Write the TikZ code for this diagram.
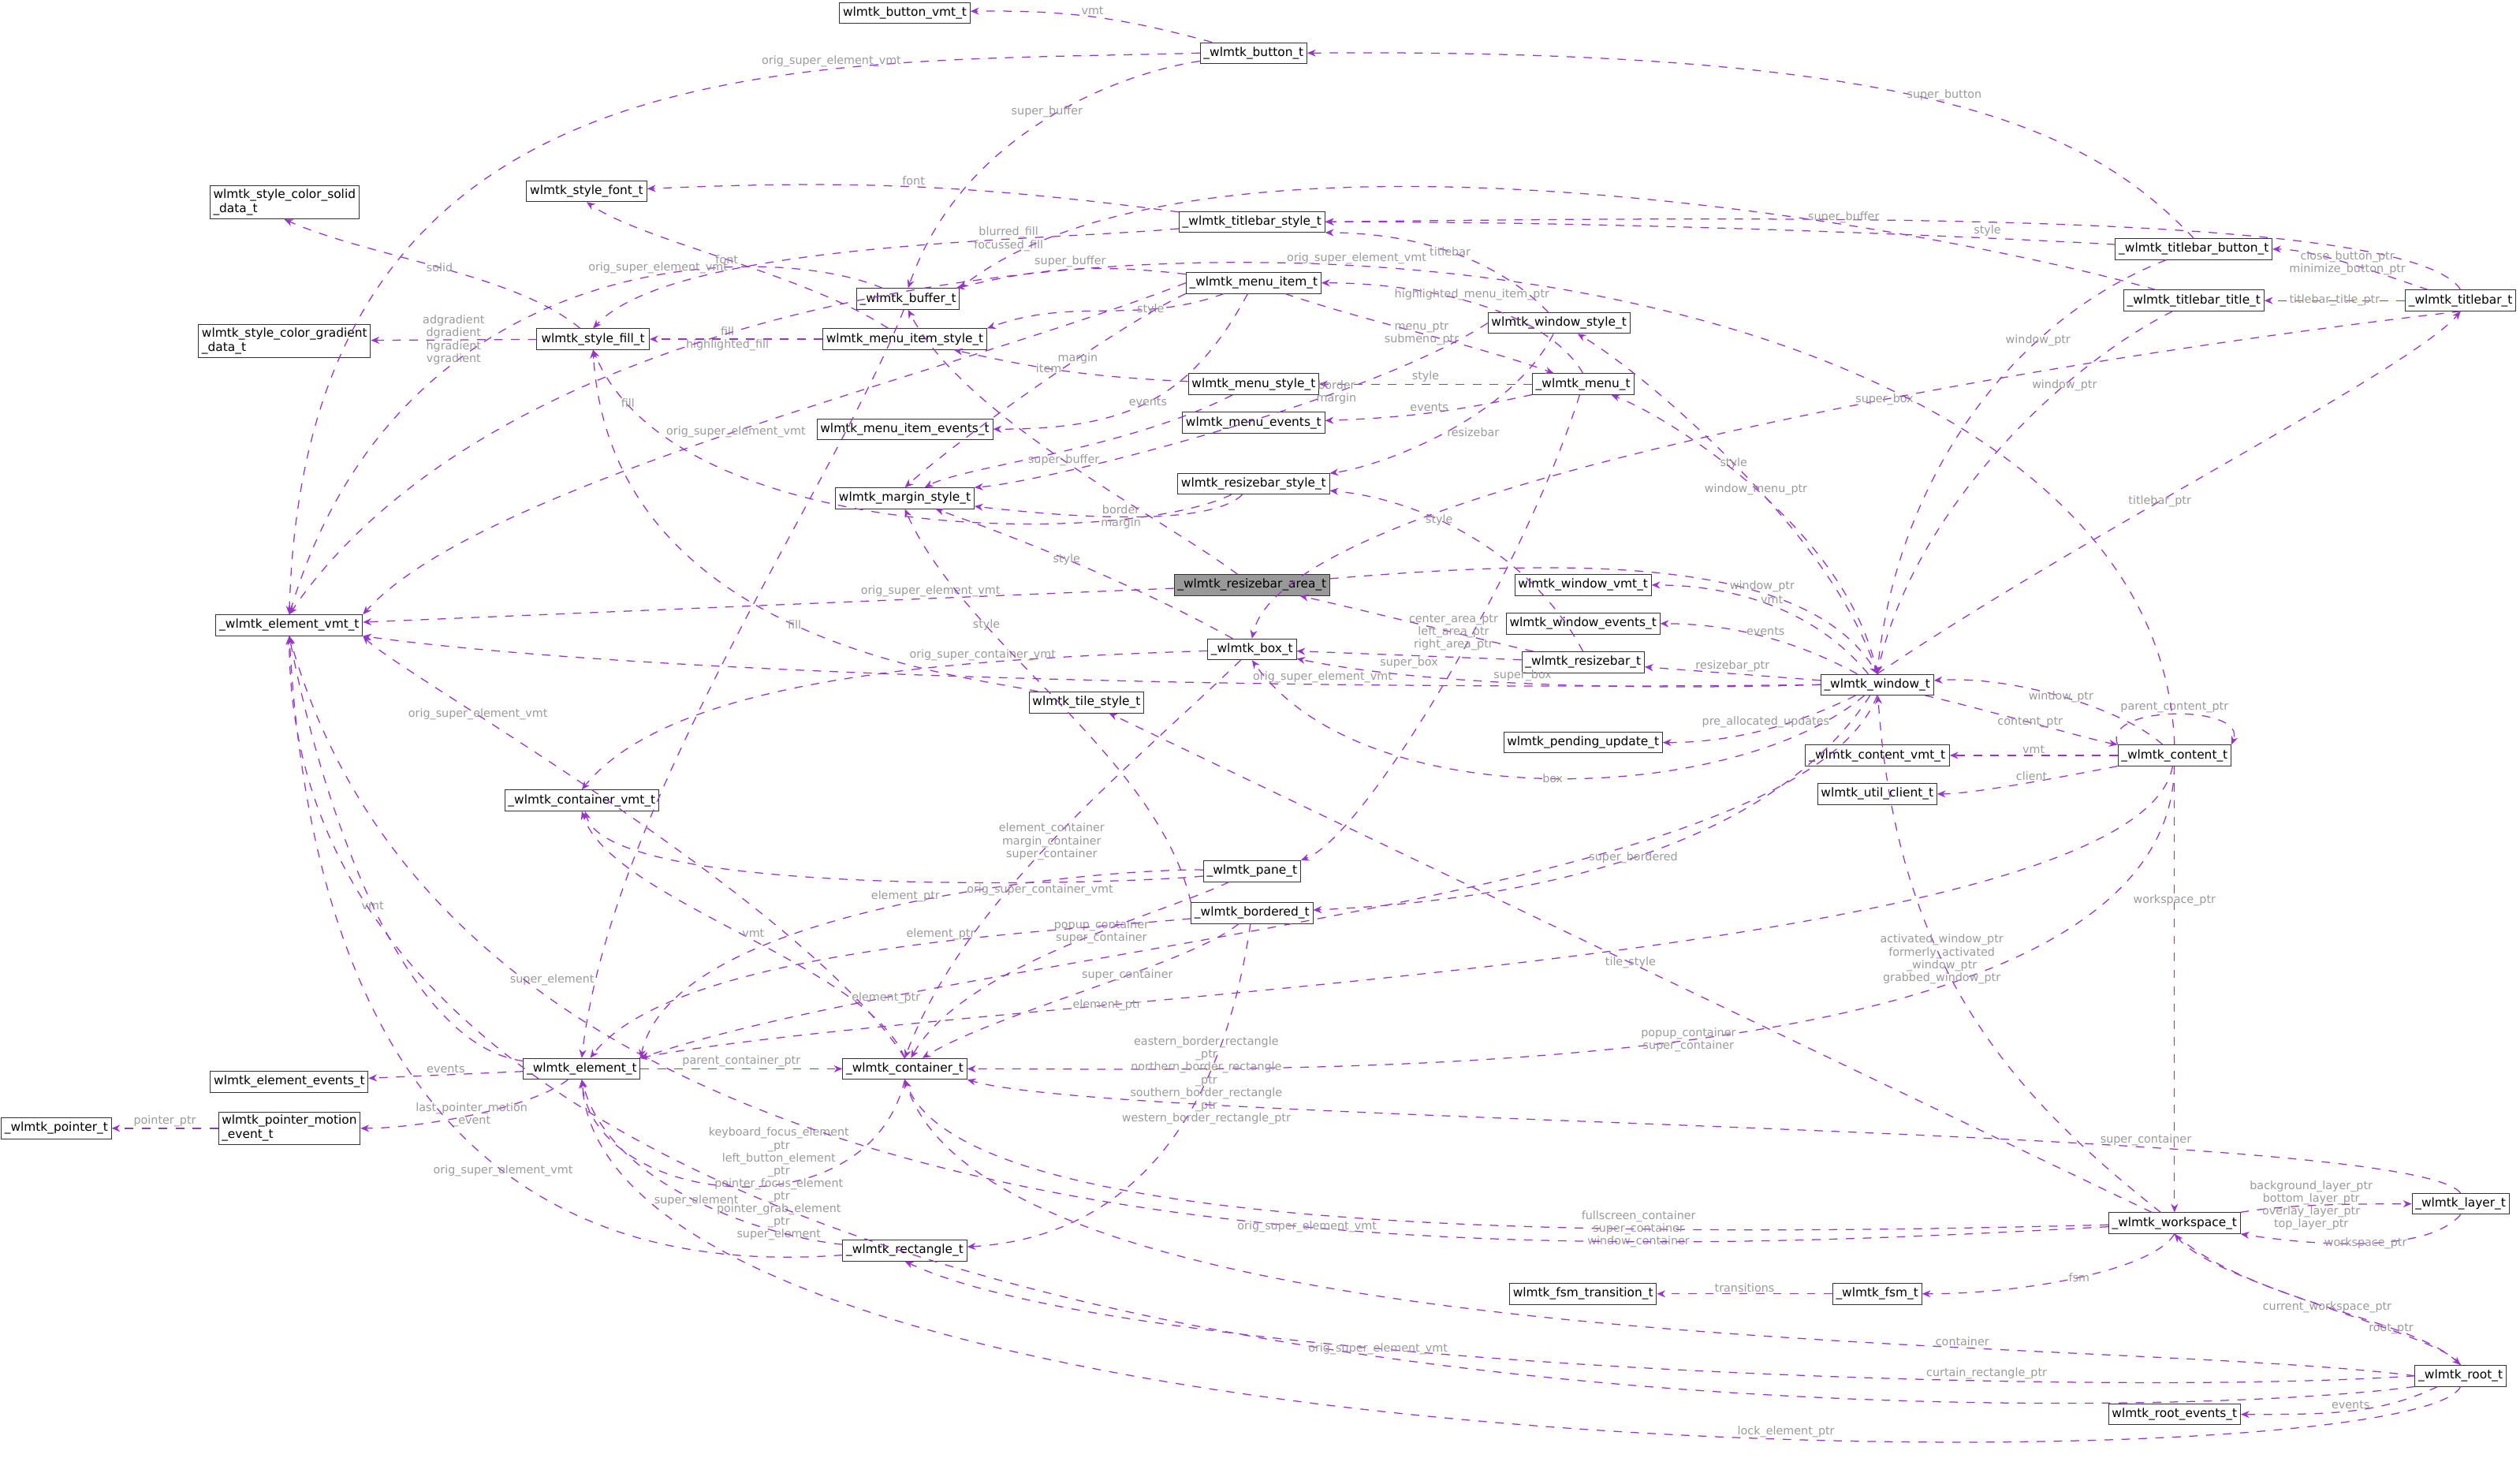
\documentclass[tikz,border=0pt]{standalone}
\usepackage{fontspec}
\setmainfont{DejaVu Sans}
\usetikzlibrary{arrows.meta}
\definecolor{pe}{HTML}{9A32CD}
\definecolor{lg}{HTML}{9A9A9A}
\tikzset{
 nd/.style={draw=black!80,line width=0.25pt,fill=white,font=\fontsize{4.3}{5}\selectfont,inner sep=1.2pt,minimum height=0.26cm,align=center},
 nd2/.style={nd,minimum height=0.4cm,align=left},
 sel/.style={nd,fill=gray!80},
 e/.style={draw=pe,dashed,line width=0.35pt,-{Stealth[length=3pt,width=2.5pt]}},
 lab/.style={font=\fontsize{4}{4.5}\selectfont,text=lg,align=center,inner sep=0.5pt,fill=none}
}
\begin{document}
\begin{tikzpicture}[x=0.02cm,y=-0.02cm]
\useasboundingbox (0,0) rectangle (1568,916);
\fill[white] (0,0) rectangle (1568,916);
% nodes
\node[nd,minimum width=1.5cm] (bvmt) at (563,8) {wlmtk\_button\_vmt\_t};
\node[nd,minimum width=1.2cm] (btn) at (780,33) {\_wlmtk\_button\_t};
\node[nd2,minimum width=1.6cm] (csol) at (177,126) {wlmtk\_style\_color\_solid\\\_data\_t};
\node[nd,minimum width=1.5cm] (font) at (365,119) {wlmtk\_style\_font\_t};
\node[nd,minimum width=1.6cm] (tbs) at (779,138) {\_wlmtk\_titlebar\_style\_t};
\node[nd,minimum width=1.2cm] (buf) at (565,186) {\_wlmtk\_buffer\_t};
\node[nd,minimum width=1.4cm] (mit) at (780,176) {\_wlmtk\_menu\_item\_t};
\node[nd,minimum width=1.8cm] (tbb) at (1365,155) {\_wlmtk\_titlebar\_button\_t};
\node[nd,minimum width=1.7cm] (tbt) at (1365,187) {\_wlmtk\_titlebar\_title\_t};
\node[nd,minimum width=1.3cm] (tb) at (1531,187) {\_wlmtk\_titlebar\_t};
\node[nd,minimum width=1.6cm] (wst) at (970,201) {wlmtk\_window\_style\_t};
\node[nd2,minimum width=1.9cm] (cgr) at (177,212) {wlmtk\_style\_color\_gradient\\\_data\_t};
\node[nd,minimum width=1.4cm] (fill) at (369,211) {wlmtk\_style\_fill\_t};
\node[nd,minimum width=1.9cm] (mis) at (563,211) {wlmtk\_menu\_item\_style\_t};
\node[nd,minimum width=1.6cm] (mst) at (780,239) {wlmtk\_menu\_style\_t};
\node[nd,minimum width=1.2cm] (menu) at (985,239) {\_wlmtk\_menu\_t};
\node[nd,minimum width=1.6cm] (mev) at (780,263) {wlmtk\_menu\_events\_t};
\node[nd,minimum width=2.0cm] (mie) at (563,267) {wlmtk\_menu\_item\_events\_t};
\node[nd,minimum width=1.8cm] (rbs) at (780,301) {wlmtk\_resizebar\_style\_t};
\node[nd,minimum width=1.6cm] (mar) at (563,310) {wlmtk\_margin\_style\_t};
\node[sel,minimum width=1.8cm] (rba) at (779,364) {\_wlmtk\_resizebar\_area\_t};
\node[nd,minimum width=1.6cm] (wvmt) at (985,364) {wlmtk\_window\_vmt\_t};
\node[nd,minimum width=1.75cm] (evmt) at (180,389) {\_wlmtk\_element\_vmt\_t};
\node[nd,minimum width=1.8cm] (wev) at (985,388) {wlmtk\_window\_events\_t};
\node[nd,minimum width=1.1cm] (box) at (779,404) {\_wlmtk\_box\_t};
\node[nd,minimum width=1.45cm] (rb) at (985,412) {\_wlmtk\_resizebar\_t};
\node[nd,minimum width=1.4cm] (win) at (1168,426) {\_wlmtk\_window\_t};
\node[nd,minimum width=1.35cm] (tile) at (676,437) {wlmtk\_tile\_style\_t};
\node[nd,minimum width=1.9cm] (pend) at (985,462) {wlmtk\_pending\_update\_t};
\node[nd,minimum width=1.8cm] (cvmt) at (1168,470) {\_wlmtk\_content\_vmt\_t};
\node[nd,minimum width=1.35cm] (cont) at (1353,470) {\_wlmtk\_content\_t};
\node[nd,minimum width=1.4cm] (ucl) at (1168,494) {wlmtk\_util\_client\_t};
\node[nd,minimum width=1.8cm] (ctvmt) at (362,498) {\_wlmtk\_container\_vmt\_t};
\node[nd,minimum width=1.15cm] (pane) at (779,542) {\_wlmtk\_pane\_t};
\node[nd,minimum width=1.4cm] (bord) at (779,568) {\_wlmtk\_bordered\_t};
\node[nd,minimum width=1.8cm] (eev) at (180,673) {wlmtk\_element\_events\_t};
\node[nd,minimum width=1.35cm] (el) at (362,665) {\_wlmtk\_element\_t};
\node[nd,minimum width=1.45cm] (ct) at (563,665) {\_wlmtk\_container\_t};
\node[nd,minimum width=1.25cm] (ptr) at (35,702) {\_wlmtk\_pointer\_t};
\node[nd2,minimum width=1.7cm] (pme) at (180,702) {wlmtk\_pointer\_motion\\\_event\_t};
\node[nd,minimum width=1.4cm] (rect) at (563,778) {\_wlmtk\_rectangle\_t};
\node[nd,minimum width=1.6cm] (ws) at (1353,761) {\_wlmtk\_workspace\_t};
\node[nd,minimum width=1.1cm] (lay) at (1531,749) {\_wlmtk\_layer\_t};
\node[nd,minimum width=1.8cm] (fsmt) at (985,805) {wlmtk\_fsm\_transition\_t};
\node[nd,minimum width=1.1cm] (fsm) at (1168,805) {\_wlmtk\_fsm\_t};
\node[nd,minimum width=1.1cm] (root) at (1531,856) {\_wlmtk\_root\_t};
\node[nd,minimum width=1.6cm] (rev) at (1353,880) {wlmtk\_root\_events\_t};
% edges
\draw[e] (btn) to[bend right=8] node[lab,above]{vmt} (bvmt);
\draw[e] (btn.west) .. controls (500,40) and (190,20) .. node[lab,pos=0.3,above]{orig\_super\_element\_vmt} (evmt.north);
\draw[e] (btn) .. controls (700,45) and (600,80) .. node[lab,pos=0.5,above]{super\_buffer} (buf.north);
\draw[e] (tbb.north) .. controls (1300,80) and (1200,30) .. node[lab,pos=0.5,above]{super\_button} (btn.east);
\draw[e] (tbs) to[bend right=5] node[lab,above]{font} (font);
\draw[e] (tbs) .. controls (650,150) and (420,150) .. node[lab,pos=0.3]{blurred\_fill\\focussed\_fill} (fill.north);
\draw[e] (tbb) .. controls (1280,150) and (1050,138) .. node[lab,pos=0.3,above]{style} (tbs);
\draw[e] (tb.north) .. controls (1500,130) and (1100,135) .. (tbs.east);
\draw[e] (tbt) .. controls (1200,140) and (750,60) .. node[lab,pos=0.3,above]{super\_buffer} (buf.north east);
\draw[e] (buf) .. controls (480,150) and (250,150) .. node[lab,pos=0.4,above]{orig\_super\_element\_vmt} (evmt.north);
\draw[e] (buf) .. controls (520,300) and (380,500) .. node[lab,pos=0.9,left]{super\_element} (el.north);
\draw[e] (mit) to[bend right=10] node[lab,above]{super\_buffer} (buf);
\draw[e] (mit) to[out=200,in=20] node[lab,pos=0.3]{style} (mis.north east);
\draw[e] (mit.south west) .. controls (700,200) and (600,270) .. node[lab,pos=0.4]{margin} (mar.north);
\draw[e] (mit) .. controls (740,250) and (700,267) .. node[lab,pos=0.5]{events} (mie);
\draw[e] (mit) .. controls (850,200) and (920,215) .. node[lab,pos=0.5]{menu\_ptr\\submenu\_ptr} (menu);
\draw[e] (menu.north) .. controls (960,190) and (880,176) .. node[lab,pos=0.5,above]{highlighted\_menu\_item\_ptr} (mit.east);
\draw[e] (mis) .. controls (500,170) and (400,150) .. node[lab,pos=0.5]{font} (font.south);
\draw[e] (mis) -- node[lab,pos=0.55]{fill\\highlighted\_fill} (fill);
\draw[e] (mst) to[bend left=5] node[lab,pos=0.6]{item} (mis);
\draw[e] (mst) .. controls (700,280) and (600,290) .. (mar);
\draw[e] (menu) -- node[lab,above]{style} (mst);
\draw[e] (menu) to[bend left=5] node[lab,above]{events} (mev);
\draw[e] (menu) .. controls (950,350) and (850,520) .. (pane.north east);
\draw[e] (mit.west) .. controls (600,230) and (300,300) .. node[lab,pos=0.5]{orig\_super\_element\_vmt} (evmt.north east);
\draw[e] (wst) .. controls (930,160) and (880,145) .. node[lab,pos=0.5]{titlebar} (tbs.south east);
\draw[e] (wst) .. controls (940,260) and (860,290) .. node[lab,pos=0.5,right]{resizebar} (rbs);
\draw[e] (wst.west) .. controls (850,250) and (650,300) .. node[lab,pos=0.3]{border\\margin} (mar.north east);
\draw[e] (win.north) .. controls (1140,330) and (1020,230) .. node[lab,pos=0.5]{style} (wst);
\draw[e] (win.north) .. controls (1150,330) and (1040,260) .. node[lab,pos=0.5]{window\_menu\_ptr} (menu);
\draw[e] (tbb) .. controls (1250,200) and (1180,300) .. node[lab,pos=0.3]{window\_ptr} (win.north);
\draw[e] (tbt) .. controls (1280,230) and (1190,320) .. node[lab,pos=0.3]{window\_ptr} (win.north);
\draw[e] (tb) -- node[lab]{titlebar\_title\_ptr} (tbt);
\draw[e] (tb) .. controls (1480,170) and (1440,155) .. node[lab]{close\_button\_ptr\\minimize\_button\_ptr} (tbb);
\draw[e] (tb.south) .. controls (1300,220) and (800,300) .. node[lab,pos=0.4]{super\_box} (box.north);
\draw[e] (win.north) .. controls (1300,330) and (1500,230) .. node[lab,pos=0.4]{titlebar\_ptr} (tb.south);
\draw[e] (fill) .. controls (320,170) and (230,160) .. node[lab,pos=0.5]{solid} (csol.south);
\draw[e] (fill) -- node[lab]{adgradient\\dgradient\\hgradient\\vgradient} (cgr);
\draw[e] (rbs) .. controls (700,340) and (420,340) .. node[lab,pos=0.9]{fill} (fill.south);
\draw[e] (rbs) .. controls (750,330) and (650,320) .. node[lab,pos=0.5]{border\\margin} (mar);
\draw[e] (rba) .. controls (720,320) and (600,260) .. node[lab,pos=0.5]{super\_buffer} (buf.south);
\draw[e] (rba) -- node[lab,pos=0.3,above]{orig\_super\_element\_vmt} (evmt);
\draw[e] (rba) .. controls (950,350) and (1120,340) .. node[lab,pos=0.7,above]{window\_ptr} (win.north);
\draw[e] (rb) .. controls (930,400) and (850,380) .. node[lab,pos=0.4]{center\_area\_ptr\\left\_area\_ptr\\right\_area\_ptr} (rba);
\draw[e] (rb.north) .. controls (950,340) and (880,310) .. node[lab,pos=0.6]{style} (rbs);
\draw[e] (rb) -- node[lab,below]{super\_box} (box);
\draw[e] (win) -- node[lab,pos=0.5,above]{resizebar\_ptr} (rb);
\draw[e] (win) .. controls (1130,380) and (1080,364) .. node[lab,above]{vmt} (wvmt);
\draw[e] (win) .. controls (1120,400) and (1080,388) .. node[lab,above]{events} (wev);
\draw[e] (win) .. controls (1120,450) and (1080,462) .. node[lab,above]{pre\_allocated\_updates} (pend);
\draw[e] (win.west) .. controls (1000,430) and (880,425) .. node[lab,pos=0.5,above]{super\_box} (box);
\draw[e] (win) .. controls (1080,500) and (850,510) .. node[lab,pos=0.5]{box} (box.south);
\draw[e] (box) .. controls (700,360) and (620,330) .. node[lab,pos=0.5]{style} (mar);
\draw[e] (box) .. controls (600,410) and (420,420) .. node[lab,pos=0.3,above]{orig\_super\_container\_vmt} (ctvmt.north);
\draw[e] (box) .. controls (700,480) and (600,560) .. node[lab,pos=0.5]{element\_container\\margin\_container\\super\_container} (ct.north);
\draw[e] (win.west) .. controls (800,430) and (400,420) .. node[lab,pos=0.3,above]{orig\_super\_element\_vmt} (evmt.south east);
\draw[e] (win) .. controls (1100,530) and (950,560) .. node[lab,pos=0.5]{super\_bordered} (bord);
\draw[e] (win.south) .. controls (1120,560) and (600,590) .. node[lab,pos=0.8]{element\_ptr} (el.north east);
\draw[e] (cont) .. controls (1320,440) and (1250,420) .. node[lab,pos=0.5]{window\_ptr} (win);
\draw[e] (win) .. controls (1230,440) and (1300,460) .. node[lab,pos=0.5]{content\_ptr} (cont);
\draw[e] (cont) -- node[lab,above]{vmt} (cvmt);
\draw[e] (cont) .. controls (1300,480) and (1230,494) .. node[lab,above]{client} (ucl);
\draw[e] (cont.north west) .. controls +(-10,-25) and +(10,-25) .. node[lab,above]{parent\_content\_ptr} (cont.north east);
\draw[e] (cont.north) .. controls (1340,100) and (400,60) .. node[lab,pos=0.5,above]{orig\_super\_element\_vmt} (evmt.north);
\draw[e] (cont) .. controls (1330,600) and (600,620) .. node[lab,pos=0.7]{element\_ptr} (el);
\draw[e] (cont) .. controls (1350,680) and (800,665) .. node[lab,pos=0.5]{popup\_container\\super\_container} (ct);
\draw[e] (cont) -- node[lab,pos=0.3]{workspace\_ptr} (ws);
\draw[e] (ws) .. controls (1250,680) and (1180,600) .. node[lab,pos=0.6]{activated\_window\_ptr\\formerly\_activated\\\_window\_ptr\\grabbed\_window\_ptr} (win);
\draw[e] (ws) -- node[lab,pos=0.5]{tile\_style} (tile);
\draw[e] (pane) .. controls (700,540) and (420,560) .. node[lab,pos=0.5,above]{element\_ptr} (el.north east);
\draw[e] (pane) .. controls (700,550) and (380,560) .. node[lab,pos=0.3,below]{orig\_super\_container\_vmt} (ctvmt);
\draw[e] (pane) .. controls (720,570) and (600,600) .. node[lab,pos=0.4]{popup\_container\\super\_container} (ct);
\draw[e] (bord) .. controls (650,580) and (420,590) .. node[lab,pos=0.4,above]{element\_ptr} (el);
\draw[e] (bord) .. controls (740,600) and (620,630) .. node[lab,pos=0.4]{super\_container} (ct);
\draw[e] (bord) .. controls (760,700) and (700,770) .. node[lab,pos=0.3]{eastern\_border\_rectangle\\\_ptr\\northern\_border\_rectangle\\\_ptr\\southern\_border\_rectangle\\\_ptr\\western\_border\_rectangle\_ptr} (rect);
\draw[e] (bord.north west) .. controls (720,470) and (600,400) .. node[lab,pos=0.7]{style} (mar.south);
\draw[e] (tile) .. controls (600,420) and (380,400) .. node[lab,pos=0.5]{fill} (fill.south);
\draw[e] (el) .. controls (250,650) and (200,500) .. node[lab,pos=0.5]{vmt} (evmt.south);
\draw[e] (el) -- node[lab,above]{events} (eev);
\draw[e] (el) .. controls (330,690) and (260,702) .. node[lab,pos=0.5]{last\_pointer\_motion\\\_event} (pme);
\draw[e] (pme) -- node[lab,above]{pointer\_ptr} (ptr);
\draw[e] (el) -- node[lab,above]{parent\_container\_ptr} (ct);
\draw[e] (ct.south) .. controls (540,770) and (370,750) .. node[lab,pos=0.4]{keyboard\_focus\_element\\\_ptr\\left\_button\_element\\\_ptr\\pointer\_focus\_element\\\_ptr\\pointer\_grab\_element\\\_ptr\\super\_element} (el.south);
\draw[e] (ct.north) .. controls (500,560) and (250,420) .. node[lab,pos=0.7]{orig\_super\_element\_vmt} (evmt.south east);
\draw[e] (ct.north) .. controls (540,600) and (380,560) .. node[lab,pos=0.5,right]{vmt} (ctvmt.south);
\draw[e] (rect) .. controls (480,770) and (380,740) .. node[lab,pos=0.5]{super\_element} (el.south);
\draw[e] (rect) .. controls (400,790) and (200,760) .. node[lab,pos=0.5]{orig\_super\_element\_vmt} (evmt.south);
\draw[e] (ws) .. controls (1000,770) and (600,770) .. node[lab,pos=0.3]{fullscreen\_container\\super\_container\\window\_container} (ct.south);
\draw[e] (ws) .. controls (1000,780) and (300,820) .. node[lab,pos=0.4]{orig\_super\_element\_vmt} (evmt.south);
\draw[e] (ws) .. controls (1420,750) and (1450,749) .. node[lab,pos=0.5]{background\_layer\_ptr\\bottom\_layer\_ptr\\overlay\_layer\_ptr\\top\_layer\_ptr} (lay);
\draw[e] (lay.south) .. controls (1510,780) and (1440,775) .. node[lab,pos=0.5]{workspace\_ptr} (ws.south east);
\draw[e] (lay.north) .. controls (1500,700) and (700,700) .. node[lab,pos=0.3,above]{super\_container} (ct.south east);
\draw[e] (ws.south) .. controls (1340,790) and (1260,805) .. node[lab,pos=0.5]{fsm} (fsm);
\draw[e] (fsm) -- node[lab,above]{transitions} (fsmt);
\draw[e] (ws.south) .. controls (1400,810) and (1500,820) .. node[lab,pos=0.7]{root\_ptr} (root.north);
\draw[e] (root.north) .. controls (1520,830) and (1380,800) .. node[lab,pos=0.5]{current\_workspace\_ptr} (ws.south);
\draw[e] (root.west) .. controls (1300,830) and (620,850) .. node[lab,pos=0.3,above]{container} (ct.south);
\draw[e] (root.west) .. controls (1300,870) and (700,850) .. node[lab,pos=0.3,above]{curtain\_rectangle\_ptr} (rect.south);
\draw[e] (root.south west) .. controls (1300,890) and (180,900) .. node[lab,pos=0.45,above]{orig\_super\_element\_vmt} (evmt.south);
\draw[e] (root.south) .. controls (1500,925) and (380,925) .. node[lab,pos=0.4,above]{lock\_element\_ptr} (el.south);
\draw[e] (root) .. controls (1480,880) and (1450,880) .. node[lab,pos=0.5,above]{events} (rev);
\end{tikzpicture}
\end{document}
